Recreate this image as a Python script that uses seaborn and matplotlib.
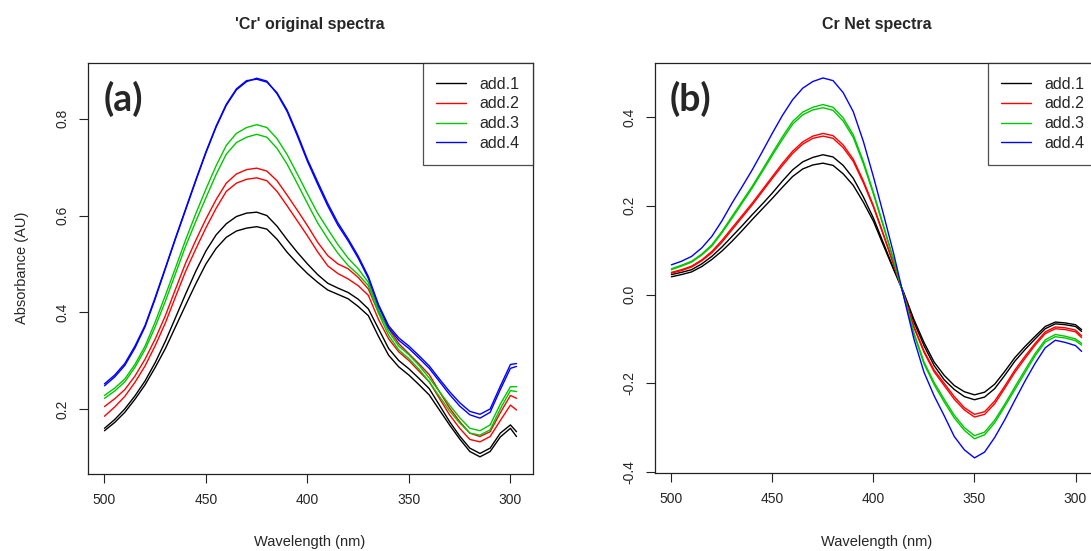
import matplotlib
matplotlib.use("Agg")
import matplotlib.pyplot as plt
import pandas as pd
import seaborn as sns
from matplotlib.lines import Line2D

# ---------------- data ----------------
wavelength = [500, 495, 490, 485, 480, 475, 470, 465, 460, 455, 450, 445, 440, 435, 430,
              425, 420, 415, 410, 405, 400, 395, 390, 385, 380, 375, 370, 365, 360, 355,
              350, 345, 340, 335, 330, 325, 320, 315, 310, 305, 300, 297]

series_names = ["add.1", "add.2", "add.3", "add.4"]
colors = ["#000000", "#FF0000", "#00C800", "#0000FF"]

# (a) original spectra (two replicate scans per addition)
orig_add1_a = [.160, .178, .200, .227, .258, .296, .340, .389, .438, .485, .527, .560, .583, .598,
               .605, .607, .600, .578, .550, .524, .500, .478, .460, .450, .441, .427, .407, .366,
               .325, .300, .283, .263, .242, .208, .174, .144, .119, .108, .119, .150, .167, .153]
orig_add1_b = [.155, .172, .193, .220, .250, .286, .325, .370, .415, .459, .500, .532, .555, .568,
               .574, .577, .572, .551, .524, .501, .480, .462, .446, .437, .428, .412, .393, .350,
               .311, .287, .270, .250, .229, .198, .167, .138, .112, .101, .112, .142, .160, .143]
orig_add2_a = [.205, .221, .240, .268, .303, .345, .393, .448, .502, .549, .593, .633, .667, .686,
               .695, .698, .692, .672, .642, .611, .579, .545, .517, .500, .490, .472, .448, .400,
               .366, .335, .314, .293, .271, .236, .202, .174, .150, .143, .153, .192, .228, .222]
orig_add2_b = [.185, .204, .226, .255, .289, .331, .378, .432, .485, .531, .575, .615, .650, .667,
               .675, .678, .672, .650, .620, .589, .558, .525, .496, .480, .469, .455, .435, .385,
               .345, .318, .300, .278, .256, .222, .188, .160, .137, .132, .143, .176, .208, .198]
orig_add3_a = [.228, .243, .262, .292, .330, .380, .435, .492, .550, .604, .655, .703, .745, .770,
               .782, .788, .782, .759, .726, .686, .645, .605, .572, .540, .512, .490, .462, .405,
               .360, .330, .312, .290, .264, .236, .208, .182, .160, .155, .167, .210, .246, .246]
orig_add3_b = [.222, .237, .256, .286, .323, .370, .423, .480, .537, .588, .637, .685, .727, .751,
               .762, .768, .762, .739, .706, .666, .625, .585, .552, .522, .497, .478, .455, .398,
               .352, .322, .304, .282, .256, .226, .196, .171, .150, .146, .157, .200, .238, .236]
orig_add4_a = [.248, .266, .290, .326, .370, .428, .490, .552, .612, .672, .730, .783, .828, .860,
               .877, .884, .878, .852, .815, .765, .712, .665, .620, .580, .548, .512, .470, .412,
               .368, .342, .325, .305, .284, .257, .230, .206, .188, .181, .193, .240, .284, .288]
orig_add4_b = [.252, .270, .294, .330, .373, .431, .492, .554, .614, .674, .732, .785, .830, .862,
               .879, .882, .876, .854, .818, .769, .716, .670, .625, .585, .552, .516, .474, .416,
               .372, .347, .330, .310, .289, .262, .236, .213, .195, .189, .200, .247, .292, .294]

# (b) net spectra
net_add1_a = [.045, .050, .056, .069, .086, .107, .131, .155, .180, .204, .229, .256, .281, .299,
              .309, .315, .310, .291, .262, .220, .172, .115, .058, .003, -.062, -.115, -.160, -.192,
              -.214, -.230, -.237, -.231, -.212, -.182, -.150, -.124, -.100, -.077, -.066, -.068,
              -.072, -.083]
net_add1_b = [.040, .045, .051, .063, .079, .098, .120, .144, .169, .193, .217, .242, .266, .283,
              .292, .296, .291, .272, .246, .208, .165, .110, .056, .004, -.056, -.108, -.152, -.182,
              -.205, -.219, -.226, -.220, -.202, -.173, -.142, -.117, -.094, -.072, -.062, -.064,
              -.068, -.079]
net_add2_a = [.050, .056, .064, .078, .097, .122, .150, .178, .206, .236, .266, .296, .323, .344,
              .357, .363, .358, .337, .305, .256, .200, .135, .068, .000, -.072, -.127, -.170, -.200,
              -.230, -.255, -.270, -.264, -.240, -.206, -.170, -.139, -.110, -.084, -.073, -.075,
              -.080, -.093]
net_add2_b = [.048, .054, .062, .076, .094, .118, .146, .174, .202, .232, .262, .291, .318, .339,
              .352, .357, .352, .331, .300, .252, .197, .133, .067, .000, -.074, -.130, -.174, -.205,
              -.236, -.260, -.276, -.270, -.246, -.211, -.175, -.144, -.114, -.088, -.077, -.079,
              -.084, -.097]
net_add3_a = [.058, .066, .075, .091, .112, .142, .176, .210, .244, .281, .319, .356, .390, .411,
              .422, .428, .422, .398, .360, .300, .230, .155, .078, -.003, -.086, -.152, -.198, -.236,
              -.272, -.300, -.318, -.310, -.283, -.247, -.208, -.170, -.133, -.102, -.090, -.094,
              -.100, -.110]
net_add3_b = [.056, .064, .073, .089, .109, .139, .172, .206, .240, .277, .314, .350, .384, .405,
              .416, .421, .415, .391, .354, .295, .226, .152, .076, -.004, -.089, -.156, -.203, -.242,
              -.278, -.306, -.325, -.316, -.289, -.252, -.214, -.176, -.138, -.107, -.095, -.098,
              -.104, -.114]
net_add4_a = [.067, .075, .086, .105, .131, .166, .206, .243, .281, .322, .364, .404, .439, .465,
              .480, .488, .482, .455, .412, .345, .265, .180, .092, -.005, -.100, -.175, -.228, -.273,
              -.320, -.350, -.368, -.355, -.322, -.282, -.238, -.195, -.155, -.120, -.103, -.108,
              -.115, -.128]

orig_series = {
    ("add.1", "r1"): orig_add1_a, ("add.1", "r2"): orig_add1_b,
    ("add.2", "r1"): orig_add2_a, ("add.2", "r2"): orig_add2_b,
    ("add.3", "r1"): orig_add3_a, ("add.3", "r2"): orig_add3_b,
    ("add.4", "r1"): orig_add4_a, ("add.4", "r2"): orig_add4_b,
}
net_series = {
    ("add.1", "r1"): net_add1_a, ("add.1", "r2"): net_add1_b,
    ("add.2", "r1"): net_add2_a, ("add.2", "r2"): net_add2_b,
    ("add.3", "r1"): net_add3_a, ("add.3", "r2"): net_add3_b,
    ("add.4", "r1"): net_add4_a,
}

x_ticks = [500, 450, 400, 350, 300]
y_ticks_a = [0.2, 0.4, 0.6, 0.8]
y_ticklabels_a = ["0.2", "0.4", "0.6", "0.8"]
y_ticks_b = [-0.4, -0.2, 0.0, 0.2, 0.4]
y_ticklabels_b = ["-0.4", "-0.2", "0.0", "0.2", "0.4"]


def to_long(series):
    rows = []
    for (name, rep), vals in series.items():
        assert len(vals) == len(wavelength), (name, rep, len(vals))
        for w, v in zip(wavelength, vals):
            rows.append({"wl": w, "val": v, "add": name, "rep": rep})
    return pd.DataFrame(rows)


df_a = to_long(orig_series)
df_b = to_long(net_series)

# ---------------- style ----------------
sns.set_style("ticks")
plt.rcParams["font.family"] = ["Liberation Sans", "DejaVu Sans"]

W, H = 1091, 551
fig = plt.figure(figsize=(W / 100, H / 100), dpi=100)


def px_axes(x0, y0, x1, y1):
    return fig.add_axes([x0 / W, 1 - y1 / H, (x1 - x0) / W, (y1 - y0) / H])


ax_a = px_axes(88, 63, 533, 474)
ax_b = px_axes(655, 63, 1098, 473)

palette = dict(zip(series_names, colors))

for ax, df in ((ax_a, df_a), (ax_b, df_b)):
    sns.lineplot(data=df, x="wl", y="val", hue="add", units="rep", estimator=None,
                 palette=palette, hue_order=series_names, linewidth=1.0, legend=False,
                 ax=ax, sort=False)
    ax.set_xlim(508.12, 288.88)
    ax.set_xticks(x_ticks)
    ax.set_xticklabels([str(t) for t in x_ticks])
    ax.set_xlabel("")
    ax.set_ylabel("")
    for s in ax.spines.values():
        s.set_visible(True)
        s.set_color("#222222")
        s.set_linewidth(0.9)
    ax.tick_params(axis="both", direction="out", length=6.5, width=0.8,
                   color="#222222", labelsize=10, pad=7)
    ax.tick_params(axis="y", labelrotation=90)
    handles = [Line2D([], [], color=c, lw=1.0) for c in colors]
    leg = ax.legend(handles, series_names, loc="upper right", borderaxespad=0,
                    fancybox=False, frameon=True, fontsize=11.5, handlelength=1.85,
                    handletextpad=0.85, labelspacing=0.3, borderpad=0.85)
    leg.get_frame().set_edgecolor("#222222")
    leg.get_frame().set_linewidth(0.9)

ax_a.set_ylim(0.0655, 0.9155)
ax_a.set_yticks(y_ticks_a)
ax_a.set_yticklabels(y_ticklabels_a)
ax_b.set_ylim(-0.4021, 0.5217)
ax_b.set_yticks(y_ticks_b)
ax_b.set_yticklabels(y_ticklabels_b)
for ax in (ax_a, ax_b):
    for lab in ax.get_yticklabels():
        lab.set_va("center")

ax_a.text(0.034, 0.912, "(a)", transform=ax_a.transAxes, fontsize=27,
          fontweight="bold", family="Lato", va="center", ha="left")
ax_b.text(0.034, 0.912, "(b)", transform=ax_b.transAxes, fontsize=27,
          fontweight="bold", family="Lato", va="center", ha="left")

fig.text(310 / W, 1 - 25 / H, "'Cr' original spectra", ha="center", va="center",
         fontsize=11.5, fontweight="bold")
fig.text(877 / W, 1 - 25 / H, "Cr Net spectra", ha="center", va="center",
         fontsize=11.5, fontweight="bold")
fig.text(310 / W, 1 - 542 / H, "Wavelength (nm)", ha="center", va="center", fontsize=10.5)
fig.text(877 / W, 1 - 542 / H, "Wavelength (nm)", ha="center", va="center", fontsize=10.5)
fig.text(22 / W, 1 - 268 / H, "Absorbance (AU)", ha="center", va="center",
         rotation=90, fontsize=10.5)

fig.savefig("out.png", dpi=100)
